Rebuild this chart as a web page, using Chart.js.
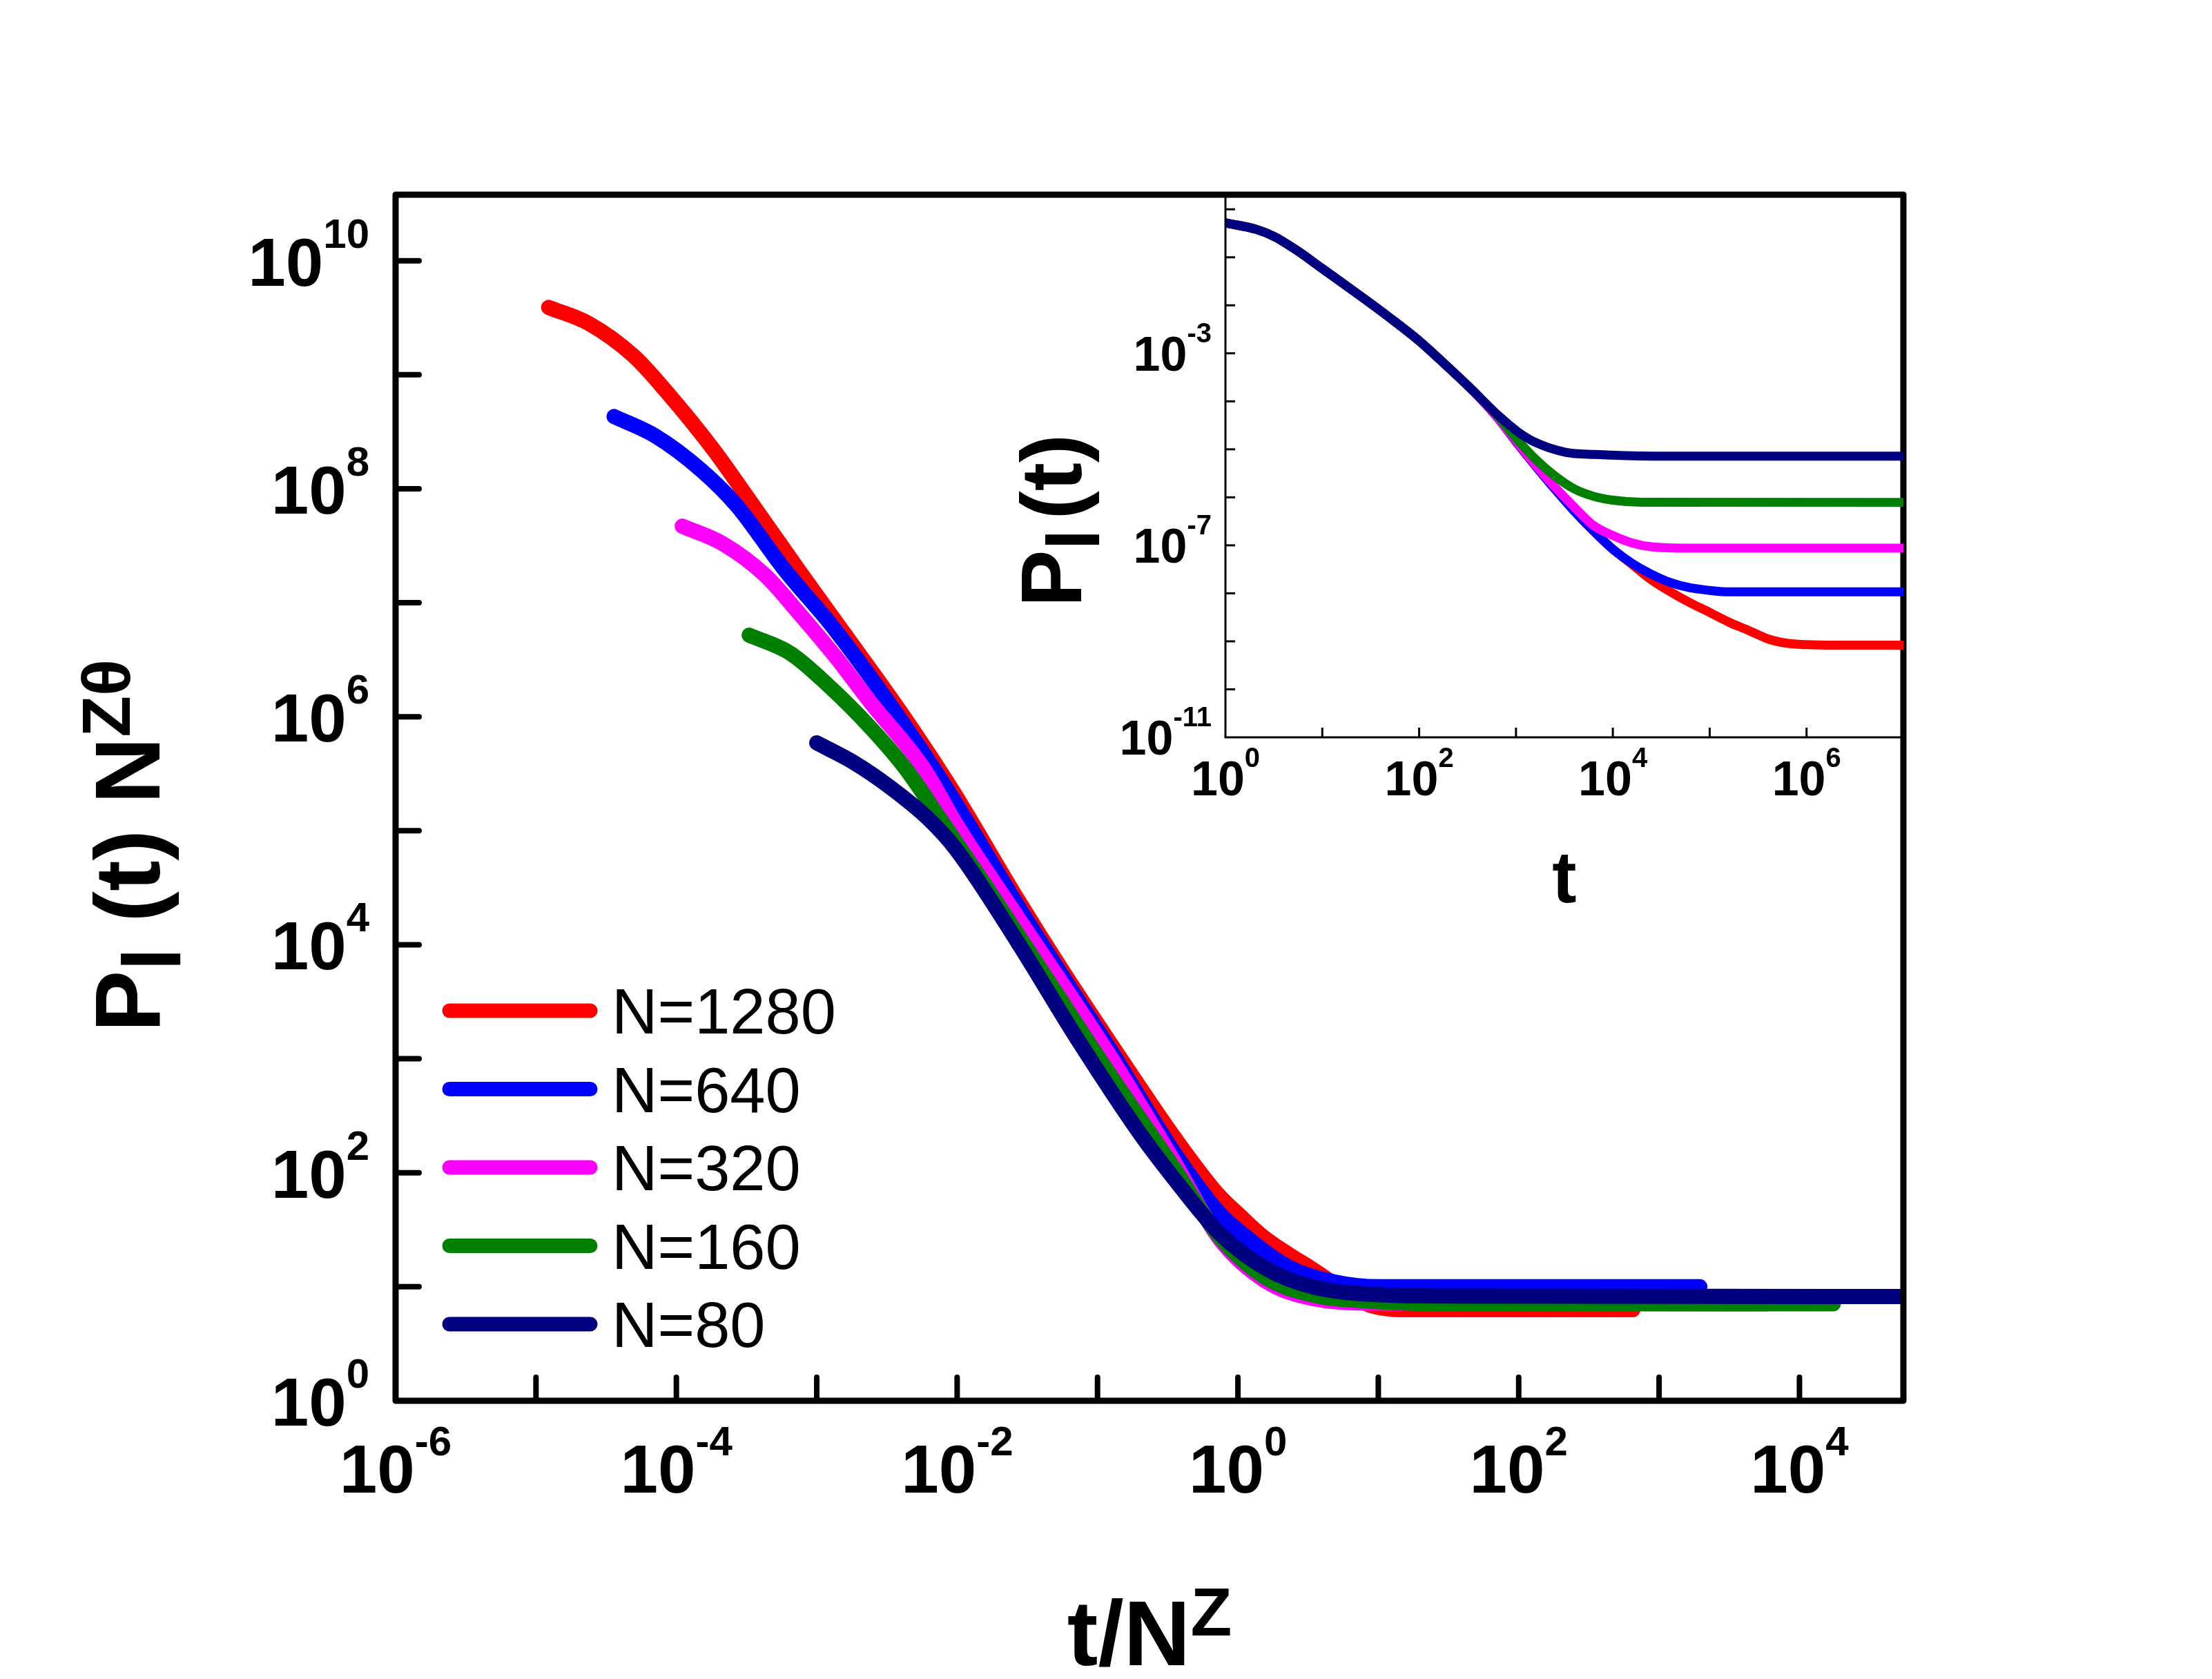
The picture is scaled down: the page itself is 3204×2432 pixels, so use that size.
<!DOCTYPE html>
<html>
<head>
<meta charset="utf-8">
<script src="https://cdn.jsdelivr.net/npm/chart.js@4.4.1/dist/chart.umd.min.js"></script>
<style>
  html, body { margin: 0; padding: 0; background: #fff; }
  #wrap { position: relative; width: 3204px; height: 2432px; background: #fff; }
  #mainChart { position: absolute; left: 0; top: 0; }
  #insetChart { position: absolute; left: 1300px; top: 200px; }
</style>
</head>
<body>
<div id="wrap">
  <canvas id="mainChart" width="3204" height="2432"></canvas>
  <canvas id="insetChart" width="1500" height="1232"></canvas>
</div>
<script>
// ── Main panel: scaled data, x = t/N^z, y = P(t) N^(z theta) ──────────────
const main1280X = [1.23e-5, 2.4e-5, 5.0e-5, 8.5e-5, 1.82e-4, 3.4e-4, 7.6e-4, 1.82e-3, 4.3e-3, 9.1e-3, 0.027, 0.058, 0.123, 0.33, 0.51, 0.71, 1.08, 1.51, 2.32, 3.24, 4.07, 6.3, 8.7, 15.1, 650];
const main1280Y = [3.9e9, 2.8e9, 1.45e9, 7.1e8, 2.24e8, 7.6e7, 1.86e7, 4.2e6, 9.5e5, 2.34e5, 2.5e4, 5600, 1380, 229, 110, 66, 40, 27.5, 19.1, 14.8, 12.3, 8.5, 6.9, 6.3, 6.3];

const main640X = [3.6e-5, 7.1e-5, 1.51e-4, 2.7e-4, 5.8e-4, 1.35e-3, 4.6e-3, 9.1e-3, 0.027, 0.058, 0.123, 0.35, 0.74, 1.08, 2.32, 4.9, 10, 1950];
const main640Y = [4.3e8, 2.9e8, 1.45e8, 7.1e7, 2.0e7, 5.8e6, 7.2e5, 2.0e5, 2.2e4, 5000, 1200, 151, 44, 29, 14.8, 11, 10, 10];

const main320X = [1.1e-4, 2.14e-4, 4.3e-4, 7.6e-4, 1.35e-3, 2.4e-3, 5.8e-3, 9.8e-3, 0.027, 0.123, 0.35, 0.74, 1.58, 3.4, 10, 5900];
const main320Y = [4.7e7, 3.3e7, 1.74e7, 7.9e6, 3.4e6, 1.35e6, 3.5e5, 1.15e5, 1.74e4, 1050, 126, 26.3, 11.2, 7.9, 7.2, 7.1];

const main160X = [3.3e-4, 6.5e-4, 1.2e-3, 2.4e-3, 4.3e-3, 7.6e-3, 0.0162, 0.0447, 0.123, 0.35, 0.74, 1.58, 3.4, 10, 31.6, 1.74e4];
const main160Y = [5.2e6, 3.6e6, 1.9e6, 8.1e5, 3.5e5, 1.26e5, 3.2e4, 4800, 720, 110, 27.5, 12, 8.5, 7.4, 7.1, 7.1];

const main80X = [1.0e-3, 1.82e-3, 3.2e-3, 6.3e-3, 9.8e-3, 0.027, 0.072, 0.204, 0.35, 0.74, 1.58, 3.4, 10.5, 31.6, 5.5e4];
const main80Y = [5.9e5, 4.0e5, 2.5e5, 1.26e5, 6.9e4, 1.05e4, 1480, 214, 89, 29.5, 14.5, 10, 8.5, 8.3, 8.2];

// ── Inset: raw P(t) against t ─────────────────────────────────────────────
const insetEarlyT = [1, 2.1, 3.2, 5.6, 9.8, 23, 47, 100, 190, 390];
const insetEarlyP = [0.52, 0.38, 0.27, 0.135, 0.060, 0.0174, 6.0e-3, 1.82e-3, 5.6e-4, 1.41e-4];

const inset1280T = [630, 1000, 1580, 2510, 3980, 6300, 1e4, 1.58e4, 2.5e4, 4e4, 6.3e4, 1e5, 1.58e5, 2.5e5, 4e5, 6.3e5, 1e6, 2e6, 1e7];
const inset1280P = [4.8e-5, 1.45e-5, 4.6e-6, 1.5e-6, 5.2e-7, 2.0e-7, 8.3e-8, 4.0e-8, 1.9e-8, 1.05e-8, 6.3e-9, 4.0e-9, 2.5e-9, 1.7e-9, 1.12e-9, 9.1e-10, 8.5e-10, 8.3e-10, 8.3e-10];

const inset640T = [630, 1000, 1580, 2510, 3980, 6300, 1e4, 1.58e4, 2.5e4, 4e4, 6.3e4, 1e5, 1.58e5, 1e7];
const inset640P = [4.8e-5, 1.45e-5, 4.6e-6, 1.5e-6, 5.2e-7, 2.0e-7, 8.3e-8, 4.2e-8, 2.5e-8, 1.66e-8, 1.3e-8, 1.15e-8, 1.07e-8, 1.07e-8];

const inset320T = [630, 1000, 1580, 2510, 3980, 6300, 1e4, 1.58e4, 2.5e4, 6.3e4, 1e7];
const inset320P = [4.8e-5, 1.5e-5, 4.8e-6, 1.66e-6, 6.3e-7, 2.6e-7, 1.6e-7, 1.12e-7, 9.3e-8, 8.7e-8, 8.7e-8];

const inset160T = [630, 1000, 1580, 2510, 3980, 6300, 1e4, 2e4, 1e7];
const inset160P = [5.2e-5, 1.7e-5, 6.3e-6, 2.8e-6, 1.5e-6, 1.05e-6, 8.7e-7, 7.9e-7, 7.8e-7];

const inset80T = [676, 1050, 1580, 3240, 6600, 2.7e4, 1e7];
const inset80P = [4.8e-5, 2.3e-5, 1.4e-5, 8.7e-6, 7.8e-6, 7.2e-6, 7.2e-6];

// ── Series, axes, tick labels ─────────────────────────────────────────────
const seriesLabels = ['N=1280', 'N=640', 'N=320', 'N=160', 'N=80'];
const seriesColors = ['#ff0000', '#0000ff', '#ff00ff', '#008000', '#000080'];

const mainXTickExp = [-5, -4, -3, -2, -1, 0, 1, 2, 3, 4];
const mainXLabelExp = [-6, -4, -2, 0, 2, 4];
const mainYTickExp = [1, 2, 3, 4, 5, 6, 7, 8, 9, 10];
const mainYLabelExp = [0, 2, 4, 6, 8, 10];

const insetXTickExp = [1, 2, 3, 4, 5, 6];
const insetXLabelExp = [0, 2, 4, 6];
const insetYTickExp = [-10, -9, -8, -7, -6, -5, -4, -3, -2, -1, 0];
const insetYLabelExp = [-11, -7, -3];

const FONT = '"Liberation Sans", Arial, Helvetica, sans-serif';

const zip = (xs, ys) => xs.map((v, i) => ({ x: v, y: ys[i] }));

const mainSets = [
  zip(main1280X, main1280Y), zip(main640X, main640Y), zip(main320X, main320Y),
  zip(main160X, main160Y), zip(main80X, main80Y)
];
const insetSets = [
  zip(insetEarlyT.concat(inset1280T), insetEarlyP.concat(inset1280P)),
  zip(insetEarlyT.concat(inset640T), insetEarlyP.concat(inset640P)),
  zip(insetEarlyT.concat(inset320T), insetEarlyP.concat(inset320P)),
  zip(insetEarlyT.concat(inset160T), insetEarlyP.concat(inset160P)),
  zip(insetEarlyT.concat(inset80T), insetEarlyP.concat(inset80P))
];

function makeDatasets(sets, width) {
  return sets.map((pts, i) => ({
    label: seriesLabels[i],
    data: pts,
    borderColor: seriesColors[i],
    backgroundColor: seriesColors[i],
    borderWidth: width,
    borderCapStyle: 'round',
    borderJoinStyle: 'round',
    pointRadius: 0,
    cubicInterpolationMode: 'monotone',
    clip: 0,
    // first series at the bottom, N=80 on top
    order: sets.length - i
  }));
}

// "10" with a raised exponent
function drawPow(ctx, exp, x, y, base, sup, rise, align) {
  ctx.font = `bold ${base}px ${FONT}`;
  const w1 = ctx.measureText('10').width;
  ctx.font = `bold ${sup}px ${FONT}`;
  const w2 = ctx.measureText(String(exp)).width;
  const left = align === 'center' ? x - (w1 + w2) / 2 : x - (w1 + w2);
  ctx.textAlign = 'left';
  ctx.textBaseline = 'alphabetic';
  ctx.font = `bold ${base}px ${FONT}`;
  ctx.fillText('10', left, y);
  ctx.font = `bold ${sup}px ${FONT}`;
  ctx.fillText(String(exp), left + w1, y - rise);
}

// text made of runs with their own size / vertical shift, centred on (x, y)
function drawRuns(ctx, runs, x, y, rotate) {
  ctx.save();
  ctx.translate(x, y);
  if (rotate) ctx.rotate(-Math.PI / 2);
  ctx.textAlign = 'left';
  ctx.textBaseline = 'alphabetic';
  let total = 0;
  runs.forEach(r => {
    ctx.font = `${r.weight || 'bold'} ${r.size}px ${FONT}`;
    r.w = ctx.measureText(r.t).width + (r.gap || 0);
    total += r.w;
  });
  let cx = -total / 2;
  runs.forEach(r => {
    ctx.font = `${r.weight || 'bold'} ${r.size}px ${FONT}`;
    ctx.fillText(r.t, cx + (r.gap || 0), r.dy || 0);
    cx += r.w;
  });
  ctx.restore();
}

function seg(ctx, x1, y1, x2, y2) {
  ctx.beginPath();
  ctx.moveTo(x1, y1);
  ctx.lineTo(x2, y2);
  ctx.stroke();
}

const mainDecor = {
  id: 'mainDecor',
  afterDatasetsDraw(chart) {
    const { ctx, chartArea: a, scales: { x, y } } = chart;
    ctx.save();
    ctx.strokeStyle = '#000';
    ctx.fillStyle = '#000';

    // inward ticks
    ctx.lineWidth = 8;
    ctx.lineCap = 'round';
    mainXTickExp.forEach(e => {
      const px = x.getPixelForValue(Math.pow(10, e));
      seg(ctx, px, a.bottom, px, a.bottom - 34);
    });
    mainYTickExp.forEach(e => {
      const py = y.getPixelForValue(Math.pow(10, e));
      seg(ctx, a.left, py, a.left + 34, py);
    });

    // frame
    ctx.lineWidth = 9;
    ctx.lineCap = 'butt';
    ctx.lineJoin = 'round';
    ctx.strokeRect(a.left, a.top, a.right - a.left, a.bottom - a.top);

    // tick labels
    mainXLabelExp.forEach(e => {
      const px = x.getPixelForValue(Math.pow(10, e));
      drawPow(ctx, e, px, a.bottom + 133, 98, 60, 54, 'center');
    });
    mainYLabelExp.forEach(e => {
      const py = y.getPixelForValue(Math.pow(10, e));
      drawPow(ctx, e, a.left - 38, py + 36, 98, 60, 55, 'right');
    });

    // axis titles
    drawRuns(ctx, [
      { t: 't/N', size: 134 },
      { t: 'Z', size: 98, dy: -43 }
    ], (a.left + a.right) / 2, a.bottom + 383, false);

    drawRuns(ctx, [
      { t: 'P', size: 134 },
      { t: 'l', size: 118, dy: 30 },
      { t: ' (t) N', size: 134 },
      { t: 'Zθ', size: 98, dy: -43 }
    ], 231, 1225, true);

    // legend
    chart.data.datasets.forEach((ds, i) => {
      const ry = a.top + 1182 + i * 113.5;
      ctx.strokeStyle = ds.borderColor;
      ctx.lineWidth = 21;
      ctx.lineCap = 'round';
      seg(ctx, a.left + 78, ry, a.left + 282, ry);
      ctx.fillStyle = '#000';
      ctx.font = `92px ${FONT}`;
      ctx.textAlign = 'left';
      ctx.textBaseline = 'alphabetic';
      ctx.fillText(ds.label, a.left + 313, ry + 33);
    });
    ctx.restore();
  }
};

const insetDecor = {
  id: 'insetDecor',
  afterDatasetsDraw(chart) {
    const { ctx, chartArea: a, scales: { x, y } } = chart;
    ctx.save();
    ctx.strokeStyle = '#000';
    ctx.fillStyle = '#000';
    ctx.lineWidth = 3;
    ctx.lineCap = 'butt';
    insetXTickExp.forEach(e => {
      const px = x.getPixelForValue(Math.pow(10, e));
      seg(ctx, px, a.bottom, px, a.bottom - 14);
    });
    insetYTickExp.forEach(e => {
      const py = y.getPixelForValue(Math.pow(10, e));
      seg(ctx, a.left, py, a.left + 14, py);
    });
    // left and bottom axis lines (top/right are the main frame)
    ctx.beginPath();
    ctx.moveTo(a.left, a.top);
    ctx.lineTo(a.left, a.bottom);
    ctx.lineTo(a.right, a.bottom);
    ctx.stroke();

    insetXLabelExp.forEach(e => {
      const px = x.getPixelForValue(Math.pow(10, e));
      drawPow(ctx, e, px, a.bottom + 84, 70, 40, 41, 'center');
    });
    insetYLabelExp.forEach(e => {
      const py = y.getPixelForValue(Math.pow(10, e));
      drawPow(ctx, e, a.left - 20, py + 25, 70, 40, 41, 'right');
    });

    drawRuns(ctx, [{ t: 't', size: 106 }], (a.left + a.right) / 2, a.bottom + 239, false);
    drawRuns(ctx, [
      { t: 'P', size: 124 },
      { t: 'l', size: 108, dy: 26 },
      { t: '(t)', size: 124, gap: 14 }
    ], 266, 554, true);
    ctx.restore();
  }
};

const logAxis = (min, max) => ({
  type: 'logarithmic',
  min: min,
  max: max,
  display: false
});

new Chart(document.getElementById('mainChart'), {
  type: 'line',
  data: { datasets: makeDatasets(mainSets, 22) },
  options: {
    responsive: false,
    animation: false,
    devicePixelRatio: 1,
    layout: { padding: { left: 573, top: 282, right: 447, bottom: 403 } },
    plugins: { legend: { display: false }, tooltip: { enabled: false } },
    scales: {
      x: logAxis(1e-6, 5.5e4),
      y: logAxis(1, 3.8e10)
    }
  },
  plugins: [mainDecor]
});

new Chart(document.getElementById('insetChart'), {
  type: 'line',
  data: { datasets: makeDatasets(insetSets, 13) },
  options: {
    responsive: false,
    animation: false,
    devicePixelRatio: 1,
    layout: { padding: { left: 475, top: 83, right: 43, bottom: 364 } },
    plugins: { legend: { display: false }, tooltip: { enabled: false } },
    scales: {
      x: logAxis(1, 1e7),
      y: logAxis(1e-11, 1.95)
    }
  },
  plugins: [insetDecor]
});
</script>
</body>
</html>
